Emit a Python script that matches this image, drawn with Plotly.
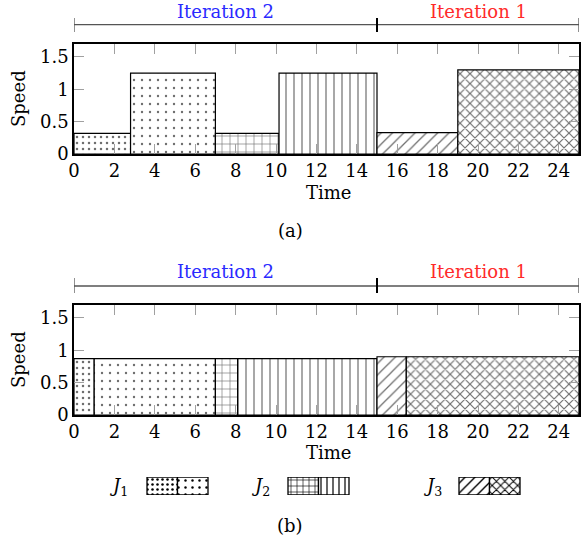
import plotly.graph_objects as go

W, H = 582, 544

# ---------------- data ----------------
seg_job = ["J1", "J1", "J2", "J2", "J3", "J3"]
seg_pattern = [".", ".", "+", "|", "/", "x"]
seg_pattern_size = [6, 8, 8, 8, 8, 7]
seg_solidity = [0.14, 0.07, 0.15, 0.15, 0.16, 0.3]

a_start = [0, 2.8, 7, 10.15, 15, 19]
a_end = [2.8, 7, 10.15, 15, 19, 25]
a_speed = [0.32, 1.25, 0.32, 1.25, 0.33, 1.30]

b_start = [0, 1.0, 7, 8.1, 15, 16.45]
b_end = [1.0, 7, 8.1, 15, 16.45, 25]
b_speed = [0.87, 0.87, 0.87, 0.87, 0.90, 0.90]

iter_names = ["Iteration 2", "Iteration 1"]
iter_start = [0, 15]
iter_end = [15, 25]
iter_colors = ["#2a2aff", "#ff2a2a"]

x_ticks = list(range(0, 26, 2))
y_ticks = [0, 0.5, 1, 1.5]
y_ticktext = ["0", "0.5", "1", "1.5"]

legend_labels = ["<i>J</i><sub>1</sub>", "<i>J</i><sub>2</sub>", "<i>J</i><sub>3</sub>"]
panel_labels = ["(a)", "(b)"]

FONT = "DejaVu Serif"
FS = 18


def pyp(p):
    return 1 - p / H


def pxp(p):
    return p / W


fig = go.Figure()

panels = [
    dict(start=a_start, end=a_end, speed=a_speed, box=(74, 44, 579, 154),
         brk=24.7, cap=(18, 32), itext=11, time=192, lab=230),
    dict(start=b_start, end=b_end, speed=b_speed, box=(74, 305, 579, 415),
         brk=286, cap=(278, 293), itext=271, time=452, lab=525),
]

annotations = []
shapes = []

for i, p in enumerate(panels):
    xa = "x" if i == 0 else "x2"
    ya = "y" if i == 0 else "y2"
    widths = [e - s for s, e in zip(p["start"], p["end"])]
    fig.add_trace(go.Bar(
        x=p["start"], y=p["speed"], width=widths, offset=0, base=0,
        xaxis=xa, yaxis=ya, showlegend=False,
        marker=dict(
            color="white",
            line=dict(color="black", width=1.2),
            pattern=dict(shape=seg_pattern, size=seg_pattern_size,
                         solidity=seg_solidity, fgcolor="#6e6e6e",
                         bgcolor="white", fillmode="replace"),
        ),
        hovertext=seg_job,
    ))
    l, t, r, b = p["box"]
    axkey = "xaxis" if i == 0 else "xaxis2"
    aykey = "yaxis" if i == 0 else "yaxis2"
    fig.update_layout(**{
        axkey: dict(domain=[pxp(l), pxp(r)], range=[0, 25], tickvals=x_ticks,
                    ticks="inside", ticklen=10, tickwidth=1.3, tickcolor="#a0a0a0",
                    showline=True, linecolor="black", linewidth=1.5, mirror="allticks",
                    showgrid=False, zeroline=False, anchor=ya, automargin=False,
                    tickfont=dict(family=FONT, size=FS, color="black")),
        aykey: dict(domain=[pyp(b), pyp(t)], range=[0, 1.7], tickvals=y_ticks,
                    ticktext=y_ticktext,
                    ticks="inside", ticklen=10, tickwidth=1.3, tickcolor="#a0a0a0",
                    showline=True, linecolor="black", linewidth=1.5, mirror="allticks",
                    showgrid=False, zeroline=False, anchor=xa, automargin=False,
                    tickfont=dict(family=FONT, size=FS, color="black")),
    })
    # iteration brackets
    for name, s, e, c in zip(iter_names, iter_start, iter_end, iter_colors):
        shapes.append(dict(type="line", xref=xa, yref="paper", x0=s, x1=e,
                           y0=pyp(p["brk"]), y1=pyp(p["brk"]),
                           line=dict(color="#555555", width=1.3)))
        annotations.append(dict(x=(s + e) / 2, y=pyp(p["itext"]), xref=xa, yref="paper",
                                text=name, showarrow=False, xanchor="center", yanchor="middle",
                                font=dict(family=FONT, size=FS, color=c)))
    cap_x = sorted(set(iter_start + iter_end))
    for cx in cap_x:
        mid = cx not in (min(cap_x), max(cap_x))
        shapes.append(dict(type="line", xref=xa, yref="paper", x0=cx, x1=cx,
                           y0=pyp(p["cap"][1]), y1=pyp(p["cap"][0]),
                           line=dict(color="black" if mid else "#555555",
                                     width=2 if mid else 1.3)))
    annotations.append(dict(x=12.6, y=pyp(p["time"]), xref=xa, yref="paper", text="Time",
                            showarrow=False, xanchor="center", yanchor="middle",
                            font=dict(family=FONT, size=FS, color="black")))
    annotations.append(dict(x=pxp(18), y=pyp((t + b) / 2), xref="paper", yref="paper",
                            text="Speed", showarrow=False, textangle=-90,
                            xanchor="center", yanchor="middle",
                            font=dict(family=FONT, size=FS, color="black")))
    annotations.append(dict(x=pxp(290), y=pyp(p["lab"]), xref="paper", yref="paper",
                            text=panel_labels[i], showarrow=False,
                            xanchor="center", yanchor="middle",
                            font=dict(family=FONT, size=FS, color="black")))

# legend drawn on a hidden axis measured in pixels
leg_label_x = [118, 260, 432]
leg_box_x = [147, 288, 459]
leg_half = 30.5
leg_x, leg_w, leg_shape, leg_size, leg_sol = [], [], [], [], []
for k, bx in enumerate(leg_box_x):
    for j in range(2):
        idx = 2 * k + j
        leg_x.append(bx + j * leg_half)
        leg_w.append(leg_half)
        leg_shape.append(seg_pattern[idx])
        leg_size.append([5, 7, 6, 6, 7, 6][idx])
        leg_sol.append([0.2, 0.1, 0.2, 0.2, 0.2, 0.3][idx])
    annotations.append(dict(x=leg_label_x[k], y=0.45, xref="x3", yref="y3",
                            text=legend_labels[k], showarrow=False,
                            xanchor="center", yanchor="middle",
                            font=dict(family=FONT, size=FS, color="black")))

fig.add_trace(go.Bar(
    x=leg_x, y=[1] * len(leg_x), width=leg_w, offset=0, base=0,
    xaxis="x3", yaxis="y3", showlegend=False, hoverinfo="skip",
    marker=dict(color="white", line=dict(color="black", width=1.3),
                pattern=dict(shape=leg_shape, size=leg_size, solidity=leg_sol,
                             fgcolor="black", bgcolor="white", fillmode="replace")),
))

fig.update_layout(
    template="none",
    xaxis3=dict(domain=[0, 1], range=[0, W], visible=False, anchor="y3", fixedrange=True),
    yaxis3=dict(domain=[pyp(495), pyp(477)], range=[0, 1], visible=False, anchor="x3",
                fixedrange=True),
    width=W, height=H,
    margin=dict(l=0, r=0, t=0, b=0, pad=0),
    paper_bgcolor="white", plot_bgcolor="white",
    barmode="overlay", showlegend=False,
    shapes=shapes, annotations=annotations,
    font=dict(family=FONT, size=FS, color="black"),
)

fig.write_html("out.html",
               config={"displayModeBar": False},
               post_script="document.body.style.margin='0';document.body.style.overflow='hidden';")
